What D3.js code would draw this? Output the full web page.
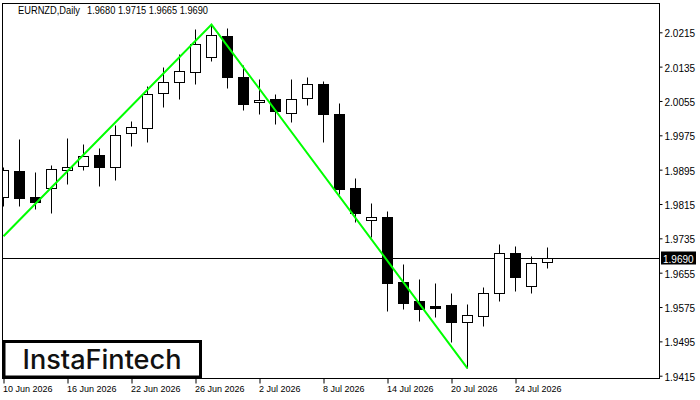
<!DOCTYPE html>
<html><head><meta charset="utf-8">
<script src="https://cdn.jsdelivr.net/npm/d3@7"></script>
<style>body{margin:0;background:#fff}svg{display:block}</style>
</head><body><svg id="c" width="700" height="400"></svg>
<script>
const dates = ["10 Jun 2026","11 Jun 2026","12 Jun 2026","15 Jun 2026","16 Jun 2026","17 Jun 2026","18 Jun 2026","19 Jun 2026",
"22 Jun 2026","23 Jun 2026","24 Jun 2026","25 Jun 2026","26 Jun 2026","29 Jun 2026","30 Jun 2026","1 Jul 2026",
"2 Jul 2026","3 Jul 2026","6 Jul 2026","7 Jul 2026","8 Jul 2026","9 Jul 2026","10 Jul 2026","13 Jul 2026",
"14 Jul 2026","15 Jul 2026","16 Jul 2026","17 Jul 2026","20 Jul 2026","21 Jul 2026","22 Jul 2026","23 Jul 2026",
"24 Jul 2026","27 Jul 2026","28 Jul 2026"];
const openV  = [1.9832,1.9892,1.9831,1.9853,1.9894,1.9903,1.9929,1.9901,1.9980,1.9991,2.0073,2.0099,2.0123,2.0157,2.0206,2.0111,
2.0052,2.0059,2.0028,2.0061,2.0095,2.0024,1.9852,1.9778,1.9785,1.9633,1.9589,1.9577,1.9580,1.9539,1.9553,1.9607,1.9700,1.9623,1.9680];
const highV  = [1.9901,1.9966,1.9890,1.9907,1.9969,1.9955,1.9946,1.9999,2.0008,2.0090,2.0134,2.0164,2.0223,2.0233,2.0224,2.0139,
2.0106,2.0071,2.0106,2.0111,2.0101,2.0050,1.9876,1.9817,1.9799,1.9675,1.9640,1.9631,1.9608,1.9582,1.9622,1.9722,1.9717,1.9694,1.9715];
const lowV   = [1.9810,1.9810,1.9804,1.9795,1.9862,1.9895,1.9858,1.9872,1.9949,1.9960,2.0042,2.0060,2.0095,2.0147,2.0086,2.0035,
2.0025,2.0002,2.0007,2.0046,1.9960,1.9838,1.9773,1.9739,1.9566,1.9571,1.9543,1.9552,1.9494,1.9432,1.9531,1.9590,1.9613,1.9608,1.9665];
const closeV = [1.9894,1.9830,1.9820,1.9897,1.9901,1.9927,1.9902,1.9976,1.9994,2.0071,2.0099,2.0124,2.0187,2.0208,2.0110,2.0049,
2.0057,2.0032,2.0059,2.0094,2.0025,1.9851,1.9795,1.9785,1.9632,1.9585,1.9571,1.9573,1.9541,1.9556,1.9607,1.9700,1.9646,1.9677,1.9690];
const xTickLabels = ["10 Jun 2026","16 Jun 2026","22 Jun 2026","26 Jun 2026","2 Jul 2026","8 Jul 2026","14 Jul 2026","20 Jul 2026","24 Jul 2026"];
const yTicks = [2.0215,2.0135,2.0055,1.9975,1.9895,1.9815,1.9735,1.9655,1.9575,1.9495,1.9415];
const lastPrice = 1.9690;
const headerTitle = "EURNZD,Daily";
const headerValues = "1.9680 1.9715 1.9665 1.9690";
const patternDates = ["10 Jun 2026","29 Jun 2026","21 Jul 2026"];
const patternPrices = [1.9740, 2.0233, 1.9432];
const logoText = "InstaFintech";

const svg = d3.select("#c");
const font = "'Liberation Sans', Arial, sans-serif";
svg.append("rect").attr("width",700).attr("height",400).attr("fill","#fff");

const x = d3.scalePoint().domain(dates).range([3.5, 547.5]);
const y = d3.scaleLinear().domain([1.9415, 2.0215]).range([375.7, 32.3]);
const L = 2.5, R = 659.5, T = 3.5, B = 378.5;

svg.append("defs").append("clipPath").attr("id","clip")
  .append("rect").attr("x",L+0.5).attr("y",T+0.5).attr("width",R-L-1).attr("height",B-T-1);

const plot = svg.append("g").attr("clip-path","url(#clip)");

const ly = Math.round(y(lastPrice)) + 0.5;
plot.append("line").attr("x1",L).attr("x2",R).attr("y1",ly).attr("y2",ly)
  .attr("stroke","#000").attr("stroke-width",1);

const cy = v => Math.round(y(v)) + 0.5;
const candles = dates.map((d,i)=>({d, o:openV[i], h:highV[i], l:lowV[i], c:closeV[i]}));
const cg = plot.append("g");
cg.selectAll("line.w").data(candles).join("line").attr("class","w")
  .attr("x1",d=>x(d.d)).attr("x2",d=>x(d.d))
  .attr("y1",d=>cy(d.h)).attr("y2",d=>cy(d.l))
  .attr("stroke","#000").attr("stroke-width",1);
cg.selectAll("rect.b").data(candles).join("rect").attr("class","b")
  .attr("x",d=>x(d.d)-5).attr("width",10)
  .attr("y",d=>Math.min(cy(d.o),cy(d.c)))
  .attr("height",d=>Math.max(1,Math.abs(cy(d.o)-cy(d.c))))
  .attr("fill",d=>d.c>=d.o?"#fff":"#000")
  .attr("stroke","#000").attr("stroke-width",1);

const pts = patternDates.map((d,i)=>[x(d), y(patternPrices[i])]);
plot.append("path").attr("d", d3.line()(pts)).attr("fill","none")
  .attr("stroke","#00ff00").attr("stroke-width",2).attr("stroke-linejoin","miter");

svg.append("rect").attr("x",L).attr("y",T).attr("width",R-L).attr("height",B-T)
  .attr("fill","none").attr("stroke","#000").attr("stroke-width",1);

const ya = svg.append("g").attr("transform",`translate(${R},0)`)
  .call(d3.axisRight(y).tickValues(yTicks).tickSize(3).tickPadding(2).tickFormat(d3.format(".4f")));
ya.select(".domain").remove();
ya.selectAll("text").attr("font-family",font).attr("font-size",10).attr("fill","#000").attr("dy","0.45em");
ya.selectAll("line").attr("stroke","#000");

const xa = svg.append("g").attr("transform",`translate(0,${B})`)
  .call(d3.axisBottom(x).tickValues(xTickLabels).tickSize(5).tickPadding(3));
xa.select(".domain").remove();
xa.selectAll("line").attr("stroke","#000");
xa.selectAll("text").attr("font-family",font).attr("font-size",9).attr("fill","#000")
  .attr("text-anchor","start").attr("x",-1).attr("y",0).attr("dy",13.5);

svg.append("rect").attr("x",661).attr("y",ly-7).attr("width",35).attr("height",13).attr("fill","#000");
svg.append("text").attr("x",663).attr("y",ly+4).attr("font-family",font).attr("font-size",10)
  .attr("fill","#fff").text(d3.format(".4f")(lastPrice));

svg.append("text").attr("x",18).attr("y",14).attr("font-family",font).attr("font-size",10)
  .attr("fill","#000").attr("textLength",62).attr("lengthAdjust","spacingAndGlyphs").text(headerTitle);
svg.append("text").attr("x",87).attr("y",14).attr("font-family",font).attr("font-size",10)
  .attr("fill","#000").attr("textLength",121).attr("lengthAdjust","spacingAndGlyphs").text(headerValues);

svg.append("rect").attr("x",4).attr("y",341.5).attr("width",196.5).attr("height",35.5)
  .attr("fill","#fff").attr("stroke","#000").attr("stroke-width",3);
svg.append("text").attr("x",22.5).attr("y",369).attr("font-family","Inter, Lato, sans-serif")
  .attr("font-weight",500).attr("font-size",27).attr("fill","#111")
  .attr("textLength",159).attr("lengthAdjust","spacingAndGlyphs").text(logoText);
</script></body></html>
